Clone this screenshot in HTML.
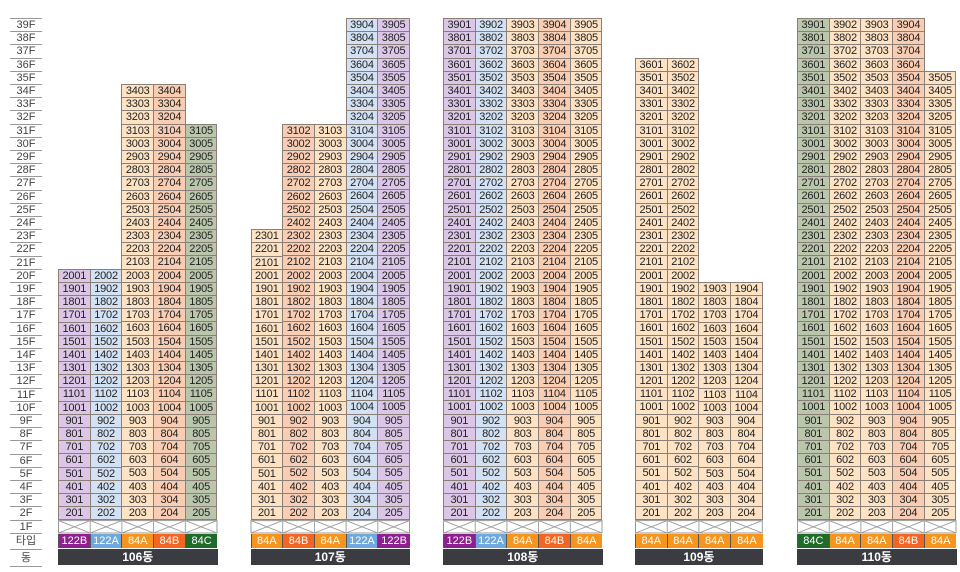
<!DOCTYPE html>
<html><head><meta charset="utf-8"><style>
body{margin:0;width:960px;height:572px;background:#fff;position:relative;overflow:hidden;font-family:"Liberation Sans","Noto Sans CJK KR",sans-serif}
.fl{position:absolute;left:10px;width:32px;height:12.2px;border-top:1px solid #999;font-size:11px;line-height:12.2px;text-align:center;color:#444}
.c{position:absolute;background:#8a8078;padding-top:1px;width:32.7px}
.c i{display:block;height:12.2px;margin:0 1px 1px 1px;font-style:normal;font-size:11px;line-height:12.6px;text-align:center;color:#222;letter-spacing:-0.2px}
.P i{background:#dcc6e8}.B i{background:#d2e2f4}.A i{background:#fde3c4}.R i{background:#f9cdb3}.G i{background:#b9c6ab}
.t{position:absolute;top:533.5px;height:14.5px;font-size:11px;line-height:15px;color:#fff;text-align:center;border-left:1px solid #555}
.tP{background:#8e1f8e}.tB{background:#6fa8dc}.tA{background:#f7941d}.tR{background:#f26522}.tG{background:#1e6b2a}
.d{position:absolute;top:549px;height:16px;background:#3a3c42;color:#fff;font-size:12px;line-height:16px;text-align:center;font-weight:bold}
svg{position:absolute}
</style></head><body>
<div class="fl" style="top:18px">39F</div><div class="fl" style="top:31.2px">38F</div><div class="fl" style="top:44.4px">37F</div><div class="fl" style="top:57.6px">36F</div><div class="fl" style="top:70.8px">35F</div><div class="fl" style="top:84px">34F</div><div class="fl" style="top:97.2px">33F</div><div class="fl" style="top:110.4px">32F</div><div class="fl" style="top:123.6px">31F</div><div class="fl" style="top:136.8px">30F</div><div class="fl" style="top:150px">29F</div><div class="fl" style="top:163.2px">28F</div><div class="fl" style="top:176.4px">27F</div><div class="fl" style="top:189.6px">26F</div><div class="fl" style="top:202.8px">25F</div><div class="fl" style="top:216px">24F</div><div class="fl" style="top:229.2px">23F</div><div class="fl" style="top:242.4px">22F</div><div class="fl" style="top:255.6px">21F</div><div class="fl" style="top:268.8px">20F</div><div class="fl" style="top:282px">19F</div><div class="fl" style="top:295.2px">18F</div><div class="fl" style="top:308.4px">17F</div><div class="fl" style="top:321.6px">16F</div><div class="fl" style="top:334.8px">15F</div><div class="fl" style="top:348px">14F</div><div class="fl" style="top:361.2px">13F</div><div class="fl" style="top:374.4px">12F</div><div class="fl" style="top:387.6px">11F</div><div class="fl" style="top:400.8px">10F</div><div class="fl" style="top:414px">9F</div><div class="fl" style="top:427.2px">8F</div><div class="fl" style="top:440.4px">7F</div><div class="fl" style="top:453.6px">6F</div><div class="fl" style="top:466.8px">5F</div><div class="fl" style="top:480px">4F</div><div class="fl" style="top:493.2px">3F</div><div class="fl" style="top:506.4px">2F</div><div class="fl" style="top:519.6px">1F</div>
<div class="fl" style="top:533px;height:15px;line-height:15px">타입</div>
<div class="fl" style="top:549px;height:16px;line-height:16px;border-bottom:1px solid #999">동</div>

<!-- 106 -->
<div class="c P" style="left:58px;top:268.8px"><i>2001</i><i>1901</i><i>1801</i><i>1701</i><i>1601</i><i>1501</i><i>1401</i><i>1301</i><i>1201</i><i>1101</i><i>1001</i><i>901</i><i>801</i><i>701</i><i>601</i><i>501</i><i>401</i><i>301</i><i>201</i></div>
<div class="c B" style="left:89.7px;top:268.8px"><i>2002</i><i>1902</i><i>1802</i><i>1702</i><i>1602</i><i>1502</i><i>1402</i><i>1302</i><i>1202</i><i>1102</i><i>1002</i><i>902</i><i>802</i><i>702</i><i>602</i><i>502</i><i>402</i><i>302</i><i>202</i></div>
<div class="c A" style="left:121.4px;top:84px"><i>3403</i><i>3303</i><i>3203</i><i>3103</i><i>3003</i><i>2903</i><i>2803</i><i>2703</i><i>2603</i><i>2503</i><i>2403</i><i>2303</i><i>2203</i><i>2103</i><i>2003</i><i>1903</i><i>1803</i><i>1703</i><i>1603</i><i>1503</i><i>1403</i><i>1303</i><i>1203</i><i>1103</i><i>1003</i><i>903</i><i>803</i><i>703</i><i>603</i><i>503</i><i>403</i><i>303</i><i>203</i></div>
<div class="c R" style="left:153.1px;top:84px"><i>3404</i><i>3304</i><i>3204</i><i>3104</i><i>3004</i><i>2904</i><i>2804</i><i>2704</i><i>2604</i><i>2504</i><i>2404</i><i>2304</i><i>2204</i><i>2104</i><i>2004</i><i>1904</i><i>1804</i><i>1704</i><i>1604</i><i>1504</i><i>1404</i><i>1304</i><i>1204</i><i>1104</i><i>1004</i><i>904</i><i>804</i><i>704</i><i>604</i><i>504</i><i>404</i><i>304</i><i>204</i></div>
<div class="c G" style="left:184.8px;top:123.6px"><i>3105</i><i>3005</i><i>2905</i><i>2805</i><i>2705</i><i>2605</i><i>2505</i><i>2405</i><i>2305</i><i>2205</i><i>2105</i><i>2005</i><i>1905</i><i>1805</i><i>1705</i><i>1605</i><i>1505</i><i>1405</i><i>1305</i><i>1205</i><i>1105</i><i>1005</i><i>905</i><i>805</i><i>705</i><i>605</i><i>505</i><i>405</i><i>305</i><i>205</i></div>

<!-- 107 -->
<div class="c A" style="left:250.5px;top:229.2px"><i>2301</i><i>2201</i><i>2101</i><i>2001</i><i>1901</i><i>1801</i><i>1701</i><i>1601</i><i>1501</i><i>1401</i><i>1301</i><i>1201</i><i>1101</i><i>1001</i><i>901</i><i>801</i><i>701</i><i>601</i><i>501</i><i>401</i><i>301</i><i>201</i></div>
<div class="c R" style="left:282.2px;top:123.6px"><i>3102</i><i>3002</i><i>2902</i><i>2802</i><i>2702</i><i>2602</i><i>2502</i><i>2402</i><i>2302</i><i>2202</i><i>2102</i><i>2002</i><i>1902</i><i>1802</i><i>1702</i><i>1602</i><i>1502</i><i>1402</i><i>1302</i><i>1202</i><i>1102</i><i>1002</i><i>902</i><i>802</i><i>702</i><i>602</i><i>502</i><i>402</i><i>302</i><i>202</i></div>
<div class="c A" style="left:313.9px;top:123.6px"><i>3103</i><i>3003</i><i>2903</i><i>2803</i><i>2703</i><i>2603</i><i>2503</i><i>2403</i><i>2303</i><i>2203</i><i>2103</i><i>2003</i><i>1903</i><i>1803</i><i>1703</i><i>1603</i><i>1503</i><i>1403</i><i>1303</i><i>1203</i><i>1103</i><i>1003</i><i>903</i><i>803</i><i>703</i><i>603</i><i>503</i><i>403</i><i>303</i><i>203</i></div>
<div class="c B" style="left:345.6px;top:18px"><i>3904</i><i>3804</i><i>3704</i><i>3604</i><i>3504</i><i>3404</i><i>3304</i><i>3204</i><i>3104</i><i>3004</i><i>2904</i><i>2804</i><i>2704</i><i>2604</i><i>2504</i><i>2404</i><i>2304</i><i>2204</i><i>2104</i><i>2004</i><i>1904</i><i>1804</i><i>1704</i><i>1604</i><i>1504</i><i>1404</i><i>1304</i><i>1204</i><i>1104</i><i>1004</i><i>904</i><i>804</i><i>704</i><i>604</i><i>504</i><i>404</i><i>304</i><i>204</i></div>
<div class="c P" style="left:377.3px;top:18px"><i>3905</i><i>3805</i><i>3705</i><i>3605</i><i>3505</i><i>3405</i><i>3305</i><i>3205</i><i>3105</i><i>3005</i><i>2905</i><i>2805</i><i>2705</i><i>2605</i><i>2505</i><i>2405</i><i>2305</i><i>2205</i><i>2105</i><i>2005</i><i>1905</i><i>1805</i><i>1705</i><i>1605</i><i>1505</i><i>1405</i><i>1305</i><i>1205</i><i>1105</i><i>1005</i><i>905</i><i>805</i><i>705</i><i>605</i><i>505</i><i>405</i><i>305</i><i>205</i></div>

<!-- 108 -->
<div class="c P" style="left:443px;top:18px"><i>3901</i><i>3801</i><i>3701</i><i>3601</i><i>3501</i><i>3401</i><i>3301</i><i>3201</i><i>3101</i><i>3001</i><i>2901</i><i>2801</i><i>2701</i><i>2601</i><i>2501</i><i>2401</i><i>2301</i><i>2201</i><i>2101</i><i>2001</i><i>1901</i><i>1801</i><i>1701</i><i>1601</i><i>1501</i><i>1401</i><i>1301</i><i>1201</i><i>1101</i><i>1001</i><i>901</i><i>801</i><i>701</i><i>601</i><i>501</i><i>401</i><i>301</i><i>201</i></div>
<div class="c B" style="left:474.7px;top:18px"><i>3902</i><i>3802</i><i>3702</i><i>3602</i><i>3502</i><i>3402</i><i>3302</i><i>3202</i><i>3102</i><i>3002</i><i>2902</i><i>2802</i><i>2702</i><i>2602</i><i>2502</i><i>2402</i><i>2302</i><i>2202</i><i>2102</i><i>2002</i><i>1902</i><i>1802</i><i>1702</i><i>1602</i><i>1502</i><i>1402</i><i>1302</i><i>1202</i><i>1102</i><i>1002</i><i>902</i><i>802</i><i>702</i><i>602</i><i>502</i><i>402</i><i>302</i><i>202</i></div>
<div class="c A" style="left:506.4px;top:18px"><i>3903</i><i>3803</i><i>3703</i><i>3603</i><i>3503</i><i>3403</i><i>3303</i><i>3203</i><i>3103</i><i>3003</i><i>2903</i><i>2803</i><i>2703</i><i>2603</i><i>2503</i><i>2403</i><i>2303</i><i>2203</i><i>2103</i><i>2003</i><i>1903</i><i>1803</i><i>1703</i><i>1603</i><i>1503</i><i>1403</i><i>1303</i><i>1203</i><i>1103</i><i>1003</i><i>903</i><i>803</i><i>703</i><i>603</i><i>503</i><i>403</i><i>303</i><i>203</i></div>
<div class="c R" style="left:538.1px;top:18px"><i>3904</i><i>3804</i><i>3704</i><i>3604</i><i>3504</i><i>3404</i><i>3304</i><i>3204</i><i>3104</i><i>3004</i><i>2904</i><i>2804</i><i>2704</i><i>2604</i><i>2504</i><i>2404</i><i>2304</i><i>2204</i><i>2104</i><i>2004</i><i>1904</i><i>1804</i><i>1704</i><i>1604</i><i>1504</i><i>1404</i><i>1304</i><i>1204</i><i>1104</i><i>1004</i><i>904</i><i>804</i><i>704</i><i>604</i><i>504</i><i>404</i><i>304</i><i>204</i></div>
<div class="c A" style="left:569.8px;top:18px"><i>3905</i><i>3805</i><i>3705</i><i>3605</i><i>3505</i><i>3405</i><i>3305</i><i>3205</i><i>3105</i><i>3005</i><i>2905</i><i>2805</i><i>2705</i><i>2605</i><i>2505</i><i>2405</i><i>2305</i><i>2205</i><i>2105</i><i>2005</i><i>1905</i><i>1805</i><i>1705</i><i>1605</i><i>1505</i><i>1405</i><i>1305</i><i>1205</i><i>1105</i><i>1005</i><i>905</i><i>805</i><i>705</i><i>605</i><i>505</i><i>405</i><i>305</i><i>205</i></div>

<!-- 109 -->
<div class="c A" style="left:635px;top:57.6px"><i>3601</i><i>3501</i><i>3401</i><i>3301</i><i>3201</i><i>3101</i><i>3001</i><i>2901</i><i>2801</i><i>2701</i><i>2601</i><i>2501</i><i>2401</i><i>2301</i><i>2201</i><i>2101</i><i>2001</i><i>1901</i><i>1801</i><i>1701</i><i>1601</i><i>1501</i><i>1401</i><i>1301</i><i>1201</i><i>1101</i><i>1001</i><i>901</i><i>801</i><i>701</i><i>601</i><i>501</i><i>401</i><i>301</i><i>201</i></div>
<div class="c A" style="left:666.7px;top:57.6px"><i>3602</i><i>3502</i><i>3402</i><i>3302</i><i>3202</i><i>3102</i><i>3002</i><i>2902</i><i>2802</i><i>2702</i><i>2602</i><i>2502</i><i>2402</i><i>2302</i><i>2202</i><i>2102</i><i>2002</i><i>1902</i><i>1802</i><i>1702</i><i>1602</i><i>1502</i><i>1402</i><i>1302</i><i>1202</i><i>1102</i><i>1002</i><i>902</i><i>802</i><i>702</i><i>602</i><i>502</i><i>402</i><i>302</i><i>202</i></div>
<div class="c A" style="left:698.4px;top:282px"><i>1903</i><i>1803</i><i>1703</i><i>1603</i><i>1503</i><i>1403</i><i>1303</i><i>1203</i><i>1103</i><i>1003</i><i>903</i><i>803</i><i>703</i><i>603</i><i>503</i><i>403</i><i>303</i><i>203</i></div>
<div class="c A" style="left:730.1px;top:282px"><i>1904</i><i>1804</i><i>1704</i><i>1604</i><i>1504</i><i>1404</i><i>1304</i><i>1204</i><i>1104</i><i>1004</i><i>904</i><i>804</i><i>704</i><i>604</i><i>504</i><i>404</i><i>304</i><i>204</i></div>

<!-- 110 -->
<div class="c G" style="left:797px;top:18px"><i>3901</i><i>3801</i><i>3701</i><i>3601</i><i>3501</i><i>3401</i><i>3301</i><i>3201</i><i>3101</i><i>3001</i><i>2901</i><i>2801</i><i>2701</i><i>2601</i><i>2501</i><i>2401</i><i>2301</i><i>2201</i><i>2101</i><i>2001</i><i>1901</i><i>1801</i><i>1701</i><i>1601</i><i>1501</i><i>1401</i><i>1301</i><i>1201</i><i>1101</i><i>1001</i><i>901</i><i>801</i><i>701</i><i>601</i><i>501</i><i>401</i><i>301</i><i>201</i></div>
<div class="c A" style="left:828.7px;top:18px"><i>3902</i><i>3802</i><i>3702</i><i>3602</i><i>3502</i><i>3402</i><i>3302</i><i>3202</i><i>3102</i><i>3002</i><i>2902</i><i>2802</i><i>2702</i><i>2602</i><i>2502</i><i>2402</i><i>2302</i><i>2202</i><i>2102</i><i>2002</i><i>1902</i><i>1802</i><i>1702</i><i>1602</i><i>1502</i><i>1402</i><i>1302</i><i>1202</i><i>1102</i><i>1002</i><i>902</i><i>802</i><i>702</i><i>602</i><i>502</i><i>402</i><i>302</i><i>202</i></div>
<div class="c A" style="left:860.4px;top:18px"><i>3903</i><i>3803</i><i>3703</i><i>3603</i><i>3503</i><i>3403</i><i>3303</i><i>3203</i><i>3103</i><i>3003</i><i>2903</i><i>2803</i><i>2703</i><i>2603</i><i>2503</i><i>2403</i><i>2303</i><i>2203</i><i>2103</i><i>2003</i><i>1903</i><i>1803</i><i>1703</i><i>1603</i><i>1503</i><i>1403</i><i>1303</i><i>1203</i><i>1103</i><i>1003</i><i>903</i><i>803</i><i>703</i><i>603</i><i>503</i><i>403</i><i>303</i><i>203</i></div>
<div class="c R" style="left:892.1px;top:18px"><i>3904</i><i>3804</i><i>3704</i><i>3604</i><i>3504</i><i>3404</i><i>3304</i><i>3204</i><i>3104</i><i>3004</i><i>2904</i><i>2804</i><i>2704</i><i>2604</i><i>2504</i><i>2404</i><i>2304</i><i>2204</i><i>2104</i><i>2004</i><i>1904</i><i>1804</i><i>1704</i><i>1604</i><i>1504</i><i>1404</i><i>1304</i><i>1204</i><i>1104</i><i>1004</i><i>904</i><i>804</i><i>704</i><i>604</i><i>504</i><i>404</i><i>304</i><i>204</i></div>
<div class="c A" style="left:923.8px;top:70.8px"><i>3505</i><i>3405</i><i>3305</i><i>3205</i><i>3105</i><i>3005</i><i>2905</i><i>2805</i><i>2705</i><i>2605</i><i>2505</i><i>2405</i><i>2305</i><i>2205</i><i>2105</i><i>2005</i><i>1905</i><i>1805</i><i>1705</i><i>1605</i><i>1505</i><i>1405</i><i>1305</i><i>1205</i><i>1105</i><i>1005</i><i>905</i><i>805</i><i>705</i><i>605</i><i>505</i><i>405</i><i>305</i><i>205</i></div>

<!-- 1F X rows -->
<svg style="left:0;top:520px" width="960" height="14" viewBox="0 520 960 14">
<defs><g id="x5"><rect x="0.5" y="520.6" width="158.5" height="12.4" fill="#fff" stroke="#999"/><path d="M0.5 520.6L32.2 533M32.2 520.6L0.5 533M32.2 520.6L63.9 533M63.9 520.6L32.2 533M63.9 520.6L95.6 533M95.6 520.6L63.9 533M95.6 520.6L127.3 533M127.3 520.6L95.6 533M127.3 520.6L159 533M159 520.6L127.3 533M32.2 520.6V533M63.9 520.6V533M95.6 520.6V533M127.3 520.6V533" stroke="#999" stroke-width="0.9" fill="none"/></g></defs>
<use href="#x5" x="58"/><use href="#x5" x="250.5"/><use href="#x5" x="443"/><use href="#x5" x="797"/>
<rect x="635.5" y="520.6" width="126.8" height="12.4" fill="#fff" stroke="#999"/>
<path d="M635.5 520.6L667.2 533M667.2 520.6L635.5 533M667.2 520.6L698.9 533M698.9 520.6L667.2 533M698.9 520.6L730.6 533M730.6 520.6L698.9 533M730.6 520.6L762.3 533M762.3 520.6L730.6 533M667.2 520.6V533M698.9 520.6V533M730.6 520.6V533" stroke="#999" stroke-width="0.9" fill="none"/>
</svg>

<!-- types -->
<div class="t tP" style="left:58px;width:30.7px">122B</div><div class="t tB" style="left:89.7px;width:30.7px">122A</div><div class="t tA" style="left:121.4px;width:30.7px">84A</div><div class="t tR" style="left:153.1px;width:30.7px">84B</div><div class="t tG" style="left:184.8px;width:31.7px">84C</div>
<div class="t tA" style="left:250.5px;width:30.7px">84A</div><div class="t tR" style="left:282.2px;width:30.7px">84B</div><div class="t tA" style="left:313.9px;width:30.7px">84A</div><div class="t tB" style="left:345.6px;width:30.7px">122A</div><div class="t tP" style="left:377.3px;width:31.7px">122B</div>
<div class="t tP" style="left:443px;width:30.7px">122B</div><div class="t tB" style="left:474.7px;width:30.7px">122A</div><div class="t tA" style="left:506.4px;width:30.7px">84A</div><div class="t tR" style="left:538.1px;width:30.7px">84B</div><div class="t tA" style="left:569.8px;width:31.7px">84A</div>
<div class="t tA" style="left:635px;width:30.7px">84A</div><div class="t tA" style="left:666.7px;width:30.7px">84A</div><div class="t tA" style="left:698.4px;width:30.7px">84A</div><div class="t tA" style="left:730.1px;width:31.7px">84A</div>
<div class="t tG" style="left:797px;width:30.7px">84C</div><div class="t tA" style="left:828.7px;width:30.7px">84A</div><div class="t tA" style="left:860.4px;width:30.7px">84A</div><div class="t tR" style="left:892.1px;width:30.7px">84B</div><div class="t tA" style="left:923.8px;width:31.7px">84A</div>

<div class="d" style="left:58px;width:159.5px">106동</div>
<div class="d" style="left:250.5px;width:159.5px">107동</div>
<div class="d" style="left:443px;width:159.5px">108동</div>
<div class="d" style="left:635px;width:127.8px">109동</div>
<div class="d" style="left:797px;width:159.5px">110동</div>
</body></html>
